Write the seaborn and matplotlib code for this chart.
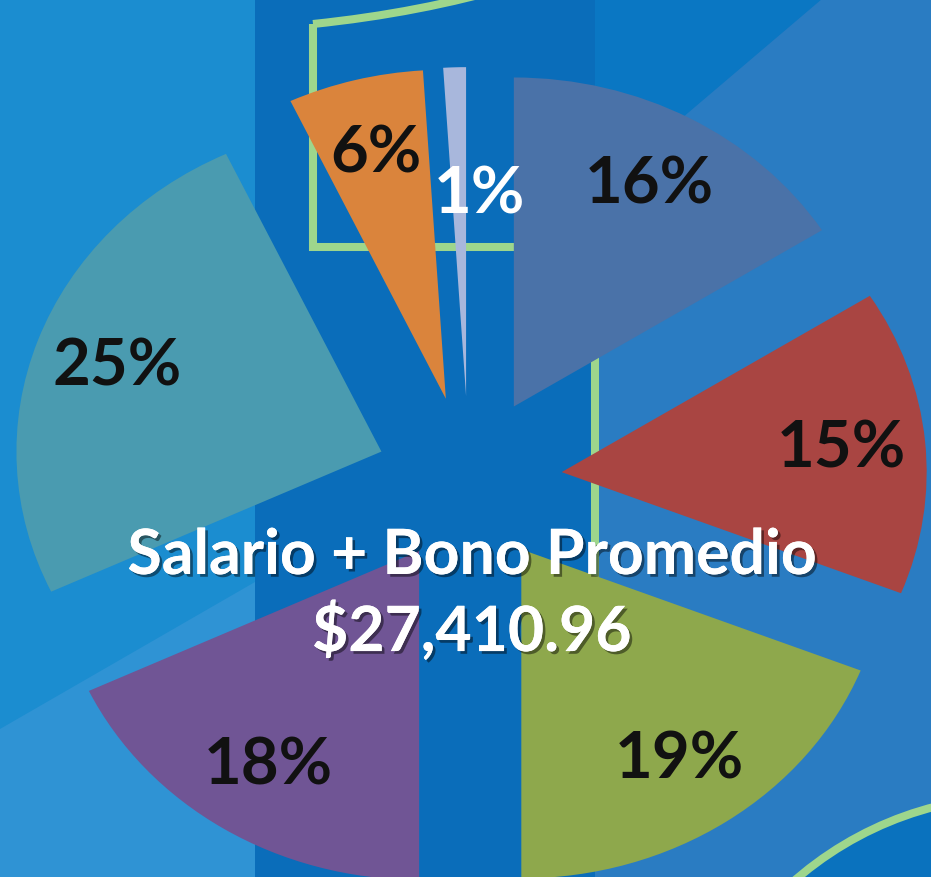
import matplotlib
matplotlib.use("Agg")
import matplotlib.pyplot as plt
import matplotlib.patheffects as pe
from matplotlib.patches import Polygon, Circle, Rectangle, PathPatch
from matplotlib.path import Path
import seaborn as sns

# data: share of each component, clockwise from 12 o'clock
shares = [16, 15, 19, 18, 25, 6, 1]
slice_colors = ["#4A72A8", "#A94542", "#8EA84C", "#705595", "#4A9BB0", "#DA843C", "#A8B7DC"]
label_colors = ["#111111", "#111111", "#111111", "#111111", "#111111", "#111111", "#FFFFFF"]
title_line1 = "Salario + Bono Promedio"
title_line2 = "$27,410.96"

sns.set_theme(style="white")
plt.rcParams["font.family"] = ["Lato", "DejaVu Sans"]

W, H = 931, 878
fig = plt.figure(figsize=(W / 100, H / 100), dpi=100)

# background slide shapes, drawn in pixel coords (y down)
bg = fig.add_axes([0, 0, 1, 1], zorder=0)
bg.set_xlim(0, W)
bg.set_ylim(H, 0)
bg.axis("off")
bg.add_patch(Rectangle((0, 0), W, H, color="#1B8DD0", lw=0))
bg.add_patch(Polygon([(0, 730), (255, 583), (255, H), (0, H)], color="#2F93D4", lw=0))
bg.add_patch(Rectangle((255, 0), 340, H, color="#0A6DBA", lw=0))
bg.add_patch(Rectangle((595, 0), W - 595, H, color="#2A7CC2", lw=0))
bg.add_patch(Polygon([(595, 0), (822, 0), (595, 193)], color="#0A77C3", lw=0))
bg.add_patch(Circle((1020, 1140), 343, facecolor="#0A72BE", edgecolor="#9ED68C", lw=5.8))

green = "#9ED68C"
bg.plot([313, 313, 595, 595], [25, 248, 248, 620], color=green, lw=5.8,
        solid_joinstyle="miter", solid_capstyle="butt")
top_arc = Path([(313, 25), (420, 14), (515, -14)], [Path.MOVETO, Path.CURVE3, Path.CURVE3])
bg.add_patch(PathPatch(top_arc, fill=False, edgecolor=green, lw=5.8))

# exploded pie on top
ax = fig.add_axes([0, 0, 1, 1], zorder=1)
ax.patch.set_alpha(0)
wedges, texts, autotexts = ax.pie(
    shares,
    colors=sns.color_palette(slice_colors),
    explode=[0.255] * len(shares),
    startangle=90,
    counterclock=False,
    autopct="%1.0f%%",
    pctdistance=0.77,
    wedgeprops=dict(linewidth=0),
    textprops=dict(fontsize=47, fontweight="bold"),
)
for t, c in zip(autotexts, label_colors):
    t.set_color(c)
# the tiny slice label sits off to the right of its sliver
autotexts[-1].set_position((0.03, 0.87))

ax.set_aspect("auto")
ax.set_xlim(-469 / 365, (W - 469) / 365)
ax.set_ylim(-(H - 481) / 329, 481 / 329)
ax.axis("off")

shadow = [pe.withSimplePatchShadow(offset=(2, -2), shadow_rgbFace="black", alpha=0.45), pe.Normal()]
fig.text(472 / W, 1 - 557 / H, title_line1, color="white", fontsize=45, fontweight="bold",
         ha="center", va="center", path_effects=shadow, zorder=5)
fig.text(472 / W, 1 - 632 / H, title_line2, color="white", fontsize=45, fontweight="bold",
         ha="center", va="center", path_effects=shadow, zorder=5)

fig.savefig("out.png", dpi=100)
